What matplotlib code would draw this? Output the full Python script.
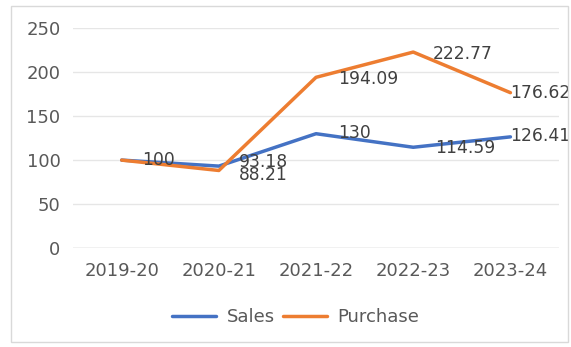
import matplotlib.pyplot as plt
from matplotlib.patches import Rectangle

years = ["2019-20", "2020-21", "2021-22", "2022-23", "2023-24"]
sales = [100, 93.18, 130, 114.59, 126.41]
purchase = [100, 88.21, 194.09, 222.77, 176.62]
sales_labels = ["100", "93.18", "130", "114.59", "126.41"]
purchase_labels = ["100", "88.21", "194.09", "222.77", "176.62"]

# label offsets in pixels (dx, dy), like Excel placing them to the right
sales_off = [(20, 0), (20, 4), (22, 1), (22, -1), (0, 1)]
purchase_off = [None, (20, -5), (22, -2), (20, -2), (0, 0)]

fig = plt.figure(figsize=(5.71, 3.47), dpi=100)
ax = fig.add_axes([0.128, 0.285, 0.851, 0.634])

x = list(range(len(years)))
ax.plot(x, sales, color="#4472C4", lw=2.5, label="Sales", solid_capstyle="round")
ax.plot(x, purchase, color="#ED7D31", lw=2.5, label="Purchase", solid_capstyle="round")

px = 72 / 100  # pixels -> points
for i in x:
    dx, dy = sales_off[i]
    ax.annotate(sales_labels[i], (i, sales[i]), xytext=(dx * px, dy * px), textcoords="offset points",
                va="center", ha="left", fontsize=12.3, color="#404040")
    if purchase_off[i] is None:
        continue
    dx, dy = purchase_off[i]
    ax.annotate(purchase_labels[i], (i, purchase[i]), xytext=(dx * px, dy * px), textcoords="offset points",
                va="center", ha="left", fontsize=12.3, color="#404040")

ax.set_xlim(-0.5, len(years) - 0.5)
ax.set_ylim(0, 250)
ax.set_yticks([0, 50, 100, 150, 200, 250])
ax.set_xticks(x)
ax.set_xticklabels(years)
ax.tick_params(axis="both", length=0, labelsize=13, colors="#595959")
ax.tick_params(axis="x", pad=10)
ax.tick_params(axis="y", pad=9)
ax.grid(axis="y", color="#E6E6E6", lw=1)
ax.axhline(0, color="#D0D0D0", lw=1)
ax.set_axisbelow(True)
for s in ax.spines.values():
    s.set_visible(False)

leg = fig.legend(loc="center", bbox_to_anchor=(0.518, 0.086), ncol=2, frameon=False,
                 fontsize=13, handlelength=2.45, columnspacing=0.4, handletextpad=0.6)
for t in leg.get_texts():
    t.set_color("#595959")

fig.patches.append(Rectangle((0.02, 0.015), 0.975, 0.968, transform=fig.transFigure,
                             fill=False, edgecolor="#D9D9D9", lw=1))

fig.savefig("out.png", dpi=100)
